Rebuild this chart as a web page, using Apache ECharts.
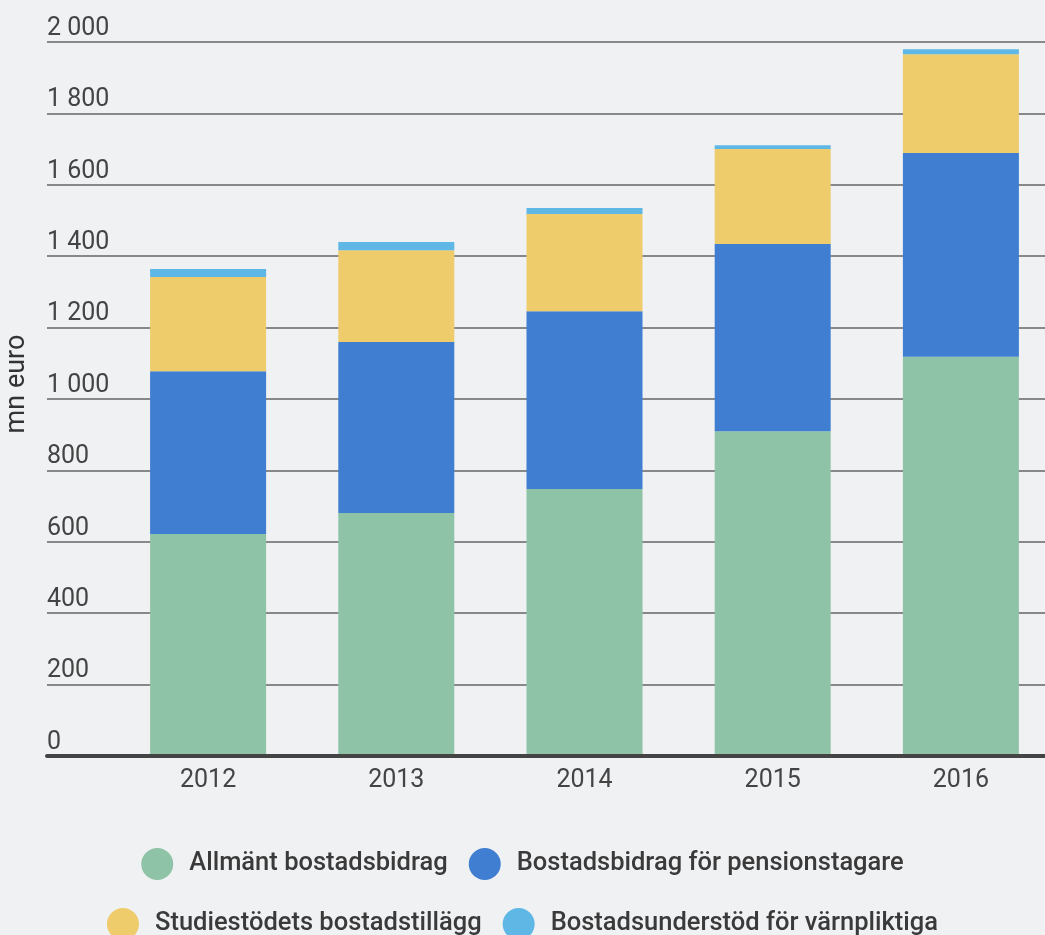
<!DOCTYPE html>
<html>
<head>
<meta charset="utf-8">
<script src="https://cdn.jsdelivr.net/npm/echarts@6/dist/echarts.min.js"></script>
<style>
  html, body { margin: 0; padding: 0; background: #f0f1f3; }
  #main { width: 1045px; height: 935px; }
</style>
</head>
<body>
<div id="main"></div>
<script>
// år och belopp (mn euro)
const years = ['2012', '2013', '2014', '2015', '2016']
const allmant = [622, 681, 748, 910, 1118]
const pension = [456, 479, 498, 524, 571]
const studie = [264, 257, 272, 266, 277]
const varnplikt = [22, 23, 17, 11, 14]
const yTicks = [0, 200, 400, 600, 800, 1000, 1200, 1400, 1600, 1800, 2000]

const names = [
  'Allmänt bostadsbidrag',
  'Bostadsbidrag för pensionstagare',
  'Studiestödets bostadstillägg',
  'Bostadsunderstöd för värnpliktiga'
]
const colors = ['#8ec3a7', '#3f7ed1', '#eecb6b', '#5eb7e5']
const font = 'Roboto, "Noto Sans", sans-serif'

const fmt = v => String(v).replace(/\B(?=(\d{3})+(?!\d))/g, ' ')

const myChart = echarts.init(document.getElementById('main'))

const legendText = {
  color: '#3a3a3a',
  fontSize: 25.5,
  fontWeight: 500,
  fontFamily: font,
  padding: [0, 0, 0, 11]
}

const option = {
  backgroundColor: '#f0f1f3',
  animation: false,
  color: colors,
  legend: [
    {
      data: names.slice(0, 2),
      top: 843,
      left: 'center',
      icon: 'circle',
      itemWidth: 32,
      itemHeight: 32,
      itemGap: 21,
      textStyle: legendText
    },
    {
      data: names.slice(2),
      top: 903,
      left: 'center',
      icon: 'circle',
      itemWidth: 32,
      itemHeight: 32,
      itemGap: 21,
      textStyle: legendText
    }
  ],
  grid: [
    { left: 47, right: 0, top: 42, bottom: 179, outerBoundsMode: 'none' },
    { left: 114, right: -10, top: 42, bottom: 179, outerBoundsMode: 'none' }
  ],
  xAxis: [
    {
      gridIndex: 0,
      type: 'category',
      data: years,
      axisLine: { show: true, lineStyle: { color: '#444', width: 4 } },
      axisTick: { show: false },
      axisLabel: { show: false },
      z: 5
    },
    {
      gridIndex: 1,
      type: 'category',
      data: years,
      axisLine: { show: false },
      axisTick: { show: false },
      axisLabel: {
        color: '#444',
        fontSize: 25,
        fontFamily: font,
        margin: 12
      }
    }
  ],
  yAxis: [
    {
      gridIndex: 0,
      type: 'value',
      min: yTicks[0],
      max: yTicks[yTicks.length - 1],
      interval: 200,
      name: 'mn euro',
      nameLocation: 'middle',
      nameGap: 16,
      nameTextStyle: {
        color: '#333',
        fontSize: 27,
        fontFamily: font,
        padding: [0, 0, 0, 30]
      },
      axisLine: { show: false },
      axisTick: { show: false },
      splitLine: { lineStyle: { color: '#888', width: 2 } },
      axisLabel: {
        inside: true,
        margin: 0,
        verticalAlign: 'bottom',
        padding: [0, 0, 1, 0],
        color: '#444',
        fontSize: 25,
        fontFamily: font,
        formatter: v => fmt(v)
      }
    },
    {
      gridIndex: 1,
      type: 'value',
      min: yTicks[0],
      max: yTicks[yTicks.length - 1],
      interval: 200,
      show: false,
      splitLine: { show: false }
    }
  ],
  series: [allmant, pension, studie, varnplikt].map((d, i) => ({
    name: names[i],
    type: 'bar',
    stack: 'total',
    xAxisIndex: 1,
    yAxisIndex: 1,
    barWidth: 116,
    data: d,
    itemStyle: { color: colors[i] }
  }))
}

myChart.setOption(option)
</script>
</body>
</html>
